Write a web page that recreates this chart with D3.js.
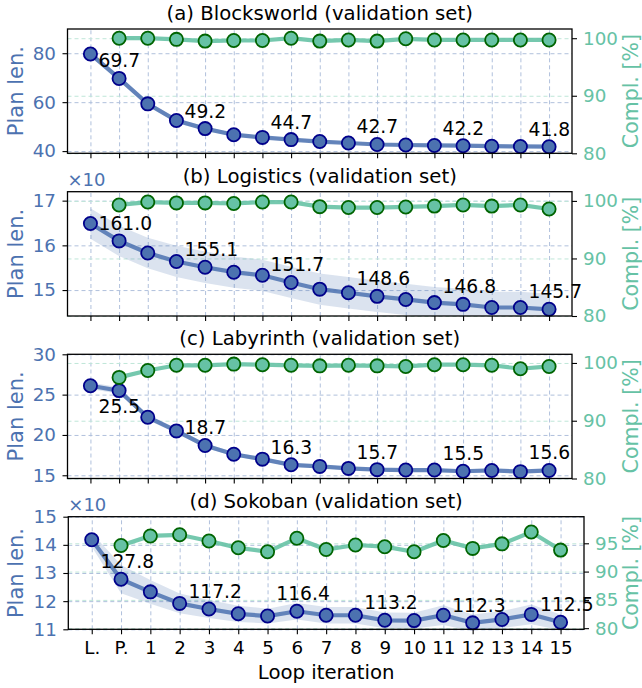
<!DOCTYPE html>
<html>
<head>
<meta charset="utf-8">
<script src="https://cdn.jsdelivr.net/npm/d3@7"></script>
<style>
  body { margin: 0; background: #fff; }
  text { font-family: "DejaVu Sans", sans-serif; }
</style>
</head>
<body>
<div id="chart"></div>
<script>
// data
const iterLabels = ["L.", "P.", "1", "2", "3", "4", "5", "6", "7", "8", "9", "10", "11", "12", "13", "14", "15"];
const titles = ["(a) Blocksworld (validation set)", "(b) Logistics (validation set)",
                "(c) Labyrinth (validation set)", "(d) Sokoban (validation set)"];

const blocksPlan = [79.7, 69.7, 59.3, 52.5, 49.2, 46.7, 45.6, 44.7, 43.9, 43.3, 42.7, 42.5, 42.3, 42.2, 42.0, 41.9, 41.8];
const blocksStd = [1.2, 1.2, 1.0, 1.0, 0.8, 0.7, 0.6, 0.6, 0.5, 0.5, 0.5, 0.5, 0.5, 0.5, 0.5, 0.5, 0.5];
const blocksCompl = [100.0, 100.0, 99.8, 99.5, 99.6, 99.6, 100.0, 99.5, 99.7, 99.5, 99.9, 99.7, 99.7, 99.7, 99.7, 99.7];

const logiPlan = [164.9, 161.0, 158.3, 156.4, 155.1, 154.0, 153.3, 151.7, 150.2, 149.4, 148.6, 147.9, 147.2, 146.8, 146.1, 146.1, 145.7];
const logiStd = [3.4, 3.4, 3.4, 3.5, 3.5, 3.5, 3.5, 3.5, 3.5, 3.5, 3.5, 3.5, 3.5, 3.5, 3.5, 3.5, 3.5];
const logiCompl = [99.3, 99.8, 99.65, 99.65, 99.55, 99.8, 99.8, 99.0, 98.85, 98.85, 98.95, 99.1, 99.3, 99.1, 99.3, 98.6];

const labyPlan = [26.1, 25.5, 22.2, 20.5, 18.7, 17.6, 17.0, 16.3, 16.1, 15.85, 15.7, 15.65, 15.65, 15.5, 15.6, 15.45, 15.6];
const labyStd = [0.4, 0.4, 0.35, 0.3, 0.3, 0.25, 0.25, 0.2, 0.2, 0.2, 0.2, 0.2, 0.2, 0.2, 0.2, 0.2, 0.2];
const labyCompl = [97.5, 98.7, 99.6, 99.6, 99.8, 99.7, 99.6, 99.5, 99.6, 99.5, 99.4, 99.7, 99.7, 99.6, 99.0, 99.4];

const sokoPlan = [141.8, 127.8, 123.3, 119.2, 117.2, 115.5, 114.7, 116.4, 115.0, 115.0, 113.2, 113.1, 115.0, 112.3, 113.5, 115.3, 112.5];
const sokoStd = [2.5, 5.0, 4.2, 3.5, 3.2, 2.9, 2.6, 2.9, 2.9, 2.9, 2.8, 2.8, 3.5, 3.0, 3.0, 3.5, 2.8];
const sokoCompl = [94.6, 96.3, 96.5, 95.4, 94.2, 93.5, 95.9, 93.9, 94.7, 94.4, 93.5, 95.5, 94.1, 94.9, 97.0, 93.8];

const blocksTicks = [40, 60, 80];
const logiTicks = [150, 160, 170];
const labyTicks = [15, 20, 25, 30];
const sokoTicks = [110, 120, 130, 140, 150];
const complTicks = [80, 90, 100];
const sokoComplTicks = [80, 85, 90, 95];

// which points carry a value label (P., 3, 6, 9, 12, 15)
const labelIdx = [1, 4, 7, 10, 13, 16];

const blue = "#4c72b0", green = "#66c2a5";

const panels = [
  { plan: blocksPlan, std: blocksStd, compl: blocksCompl, ticks: blocksTicks, ticks2: complTicks,
    left: 67.5, right: 572, top: 29, bottom: 153.3, yDom: [39.1, 89.9], y2Dom: [80, 101.6], tens: false },
  { plan: logiPlan, std: logiStd, compl: logiCompl, ticks: logiTicks, ticks2: complTicks,
    left: 67.5, right: 572, top: 191.7, bottom: 316, yDom: [144.2, 172.0], y2Dom: [80, 101.6], tens: true },
  { plan: labyPlan, std: labyStd, compl: labyCompl, ticks: labyTicks, ticks2: complTicks,
    left: 67.5, right: 572, top: 354.3, bottom: 478.5, yDom: [14.6, 30], y2Dom: [80, 101.5], tens: false },
  { plan: sokoPlan, std: sokoStd, compl: sokoCompl, ticks: sokoTicks, ticks2: sokoComplTicks,
    left: 68.3, right: 584, top: 516.7, bottom: 629.3, yDom: [110, 150], y2Dom: [79.8, 99.7], tens: true, xlabels: true }
];

const svg = d3.select("#chart").append("svg")
  .attr("width", 642).attr("height", 688);

panels.forEach((p, k) => drawPanel(p, k));

function drawPanel(p, k) {
  const g = svg.append("g");
  const x = d3.scaleLinear().domain([-0.8, 16.8]).range([p.left, p.right]);
  const y = d3.scaleLinear().domain(p.yDom).range([p.bottom, p.top]);
  const y2 = d3.scaleLinear().domain(p.y2Dom).range([p.bottom, p.top]);
  const h = p.bottom - p.top, w = p.right - p.left;
  const idx = d3.range(iterLabels.length);

  g.append("clipPath").attr("id", "clip" + k)
    .append("rect").attr("x", p.left).attr("y", p.top).attr("width", w).attr("height", h);

  // grids
  const gx = g.append("g").attr("transform", `translate(0,${p.bottom})`)
    .call(d3.axisBottom(x).tickValues(idx).tickSize(-h).tickFormat(""));
  const gy = g.append("g").attr("transform", `translate(${p.left},0)`)
    .call(d3.axisLeft(y).tickValues(p.ticks).tickSize(-w).tickFormat(""));
  const gy2 = g.append("g").attr("transform", `translate(${p.left},0)`)
    .call(d3.axisLeft(y2).tickValues(p.ticks2).tickSize(-w).tickFormat(""));
  [gx, gy, gy2].forEach(a => a.select(".domain").remove());
  gx.selectAll("line").attr("stroke", "#b0c0dc").attr("stroke-dasharray", "4,3");
  gy.selectAll("line").attr("stroke", "#b0c0dc").attr("stroke-dasharray", "4,3");
  gy2.selectAll("line").attr("stroke", "#bfe6d8").attr("stroke-dasharray", "4,3");

  // std band
  const area = d3.area()
    .x((d, i) => x(i))
    .y0((d, i) => y(d - p.std[i]))
    .y1((d, i) => y(d + p.std[i]));
  g.append("path").datum(p.plan).attr("d", area)
    .attr("fill", blue).attr("fill-opacity", 0.2)
    .attr("clip-path", `url(#clip${k})`);

  // plan length line
  const line = d3.line().x((d, i) => x(i)).y(d => y(d));
  g.append("path").datum(p.plan).attr("d", line)
    .attr("fill", "none").attr("stroke", blue).attr("stroke-width", 4.2)
    .attr("stroke-opacity", 0.85);
  g.selectAll(".bp").data(p.plan).join("circle")
    .attr("cx", (d, i) => x(i)).attr("cy", d => y(d)).attr("r", 6.6)
    .attr("fill", blue).attr("stroke", "#00008b").attr("stroke-width", 1.8);

  // completion line (twin axis, starts at P.)
  const line2 = d3.line().x((d, i) => x(i + 1)).y(d => y2(d));
  g.append("path").datum(p.compl).attr("d", line2)
    .attr("fill", "none").attr("stroke", green).attr("stroke-width", 4.2)
    .attr("stroke-opacity", 0.9);
  g.selectAll(".gp").data(p.compl).join("circle")
    .attr("cx", (d, i) => x(i + 1)).attr("cy", d => y2(d)).attr("r", 6.6)
    .attr("fill", green).attr("stroke", "#006400").attr("stroke-width", 1.8);

  // frame
  g.append("rect").attr("x", p.left).attr("y", p.top).attr("width", w).attr("height", h)
    .attr("fill", "none").attr("stroke", "#000").attr("stroke-width", 1.3);

  // axes
  const fmt = p.tens ? (d => d / 10) : (d => d);
  const ay = g.append("g").attr("transform", `translate(${p.left},0)`)
    .call(d3.axisLeft(y).tickValues(p.ticks).tickSize(5).tickPadding(6.5).tickFormat(fmt));
  const ay2 = g.append("g").attr("transform", `translate(${p.right},0)`)
    .call(d3.axisRight(y2).tickValues(p.ticks2).tickSize(5).tickPadding(6));
  const ax = g.append("g").attr("transform", `translate(0,${p.bottom})`)
    .call(d3.axisBottom(x).tickValues(idx).tickSize(5).tickPadding(7)
      .tickFormat(p.xlabels ? (i => iterLabels[i]) : ""));
  [ay, ay2, ax].forEach(a => {
    a.select(".domain").remove();
    a.selectAll("line").attr("stroke", "#000").attr("stroke-width", 1.1);
    a.selectAll("text").style("font-size", "18.3px").attr("font-family", null);
  });
  ay.selectAll("text").attr("fill", blue);
  ay2.selectAll("text").attr("fill", green);
  ax.selectAll("text").attr("fill", "#000");

  if (p.tens) {
    g.append("text").attr("x", p.left).attr("y", p.top - 5.5)
      .attr("fill", blue).style("font-size", "18px").text("\u00d710");
  }

  // titles and labels
  g.append("text").attr("x", (p.left + p.right) / 2).attr("y", p.top - 9)
    .attr("text-anchor", "middle").style("font-size", "19.7px").text(titles[k]);
  g.append("text")
    .attr("transform", `translate(23,${(p.top + p.bottom) / 2}) rotate(-90)`)
    .attr("text-anchor", "middle").attr("fill", blue).style("font-size", "21px")
    .text("Plan len.");
  g.append("text")
    .attr("transform", `translate(637.5,${(p.top + p.bottom) / 2}) rotate(-90)`)
    .attr("text-anchor", "middle").attr("fill", green).style("font-size", "20.5px")
    .text("Compl. [%]");
  if (p.xlabels) {
    g.append("text").attr("x", (p.left + p.right) / 2).attr("y", 679)
      .attr("text-anchor", "middle").style("font-size", "19.7px").text("Loop iteration");
  }

  // value annotations; go below the point when the green marker sits right above it
  labelIdx.forEach(i => {
    const py = y(p.plan[i]);
    const gyPos = y2(p.compl[i - 1]);
    const below = Math.abs(py - gyPos) < 30;
    g.append("text")
      .attr("x", x(i) - 20.5)
      .attr("y", below ? py + 22.5 : py - 11)
      .style("font-size", "18.7px").attr("fill", "#000")
      .text(d3.format(".1f")(p.plan[i]));
  });
}
</script>
</body>
</html>
